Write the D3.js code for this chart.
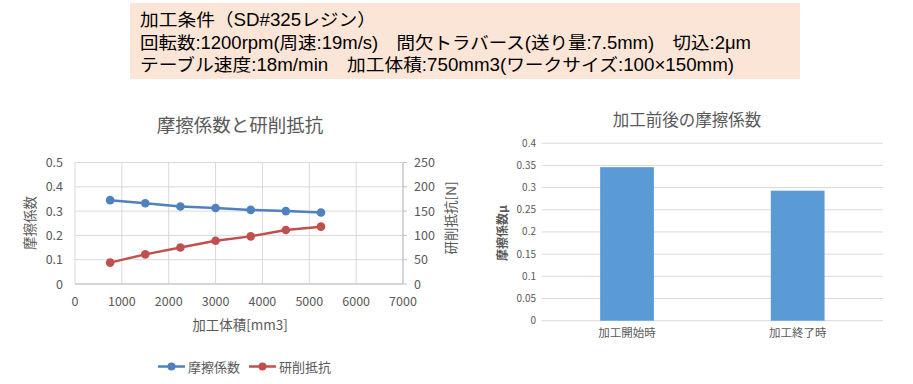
<!DOCTYPE html>
<html><head><meta charset="utf-8">
<script src="https://cdn.jsdelivr.net/npm/d3@7"></script>
<style>
body{margin:0;background:#fff;}
svg{display:block;font-family:"Noto Sans CJK JP","Noto Sans",sans-serif;}
</style></head><body>
<svg id="c" width="913" height="384"></svg>
<script>
// ---- data ----
const conditionLines = [
  "加工条件（SD#325レジン）",
  "回転数:1200rpm(周速:19m/s)　間欠トラバース(送り量:7.5mm)　切込:2μm",
  "テーブル速度:18m/min　加工体積:750mm3(ワークサイズ:100×150mm)"
];
const conditionWidths = [236, 611, 594];
const volume = [750, 1500, 2250, 3000, 3750, 4500, 5250];
const friction = [0.345, 0.332, 0.319, 0.313, 0.305, 0.300, 0.294];
const resistance = [44, 61, 75, 89, 98, 111, 118];
const xTicks = [0,1000,2000,3000,4000,5000,6000,7000];
const leftTicks = [0,0.1,0.2,0.3,0.4,0.5];
const rightTicks = [0,50,100,150,200,250];
const barCats = ["加工開始時", "加工終了時"];
const barVals = [0.346, 0.293];
const barTicks = [0,0.05,0.1,0.15,0.2,0.25,0.3,0.35,0.4];

const svg = d3.select("#c");
const gray = "#595959", grid = "#d9d9d9";

// ---- header box ----
svg.append("rect").attr("x",130).attr("y",3).attr("width",670).attr("height",76).attr("fill","#fbe5d6");
conditionLines.forEach((t,i)=>{
  svg.append("text").attr("x",140).attr("y",26+i*22.5)
    .style("font-family",'"Liberation Sans","Noto Sans CJK JP",sans-serif')
    .attr("font-size",17.5).attr("fill","#000")
    .attr("textLength",conditionWidths[i]).attr("lengthAdjust","spacingAndGlyphs").text(t);
});

// ---- left chart ----
const x = d3.scaleLinear().domain([0,7000]).range([75,403]);
const yL = d3.scaleLinear().domain([0,0.5]).range([284,162.5]);
const yR = d3.scaleLinear().domain([0,250]).range([284,162.5]);
const L = svg.append("g");
L.append("text").attr("x",240).attr("y",132).attr("text-anchor","middle").attr("font-size",18.5).attr("fill",gray).text("摩擦係数と研削抵抗");
L.selectAll(".hg").data(leftTicks).join("line").attr("x1",75).attr("x2",403)
  .attr("y1",d=>yL(d)).attr("y2",d=>yL(d)).attr("stroke",grid).attr("stroke-width",1);
L.selectAll(".vg").data(xTicks).join("line").attr("y1",162.5).attr("y2",284)
  .attr("x1",d=>x(d)).attr("x2",d=>x(d)).attr("stroke",grid).attr("stroke-width",1);
// right axis line + ticks
L.append("line").attr("x1",403).attr("x2",403).attr("y1",162.5).attr("y2",284).attr("stroke","#bfbfbf");
L.selectAll(".rt").data(rightTicks).join("line").attr("x1",403).attr("x2",407)
  .attr("y1",d=>yR(d)).attr("y2",d=>yR(d)).attr("stroke","#bfbfbf");
L.append("line").attr("x1",75).attr("x2",403).attr("y1",284).attr("y2",284).attr("stroke","#bfbfbf");
L.selectAll(".lt").data(leftTicks).join("text").attr("x",63).attr("y",d=>yL(d)+4.5)
  .attr("text-anchor","end").attr("font-size",12.5).attr("fill",gray).text(d=>d3.format("")(d));
L.selectAll(".rtl").data(rightTicks).join("text").attr("x",414).attr("y",d=>yR(d)+4.5)
  .attr("font-size",12.5).attr("fill",gray).text(d=>d);
L.selectAll(".xt").data(xTicks).join("text").attr("x",d=>x(d)).attr("y",306)
  .attr("text-anchor","middle").attr("font-size",12.5).attr("fill",gray).text(d=>d);
L.append("text").attr("x",240).attr("y",330).attr("text-anchor","middle").attr("font-size",13.5).attr("fill",gray).text("加工体積[mm3]");
L.append("text").attr("transform","translate(35,223) rotate(-90)").attr("text-anchor","middle").attr("font-size",13.5).attr("fill",gray).text("摩擦係数");
L.append("text").attr("transform","translate(456,218) rotate(-90)").attr("text-anchor","middle").attr("font-size",13.5).attr("fill",gray).text("研削抵抗[N]");

const series = [
  {vals:friction, scale:yL, color:"#4f81bd"},
  {vals:resistance, scale:yR, color:"#c0504d"}
];
series.forEach(s=>{
  const line = d3.line().x((d,i)=>x(volume[i])).y(d=>s.scale(d));
  L.append("path").datum(s.vals).attr("d",line).attr("fill","none").attr("stroke",s.color).attr("stroke-width",2.5);
  L.selectAll(null).data(s.vals).join("circle").attr("cx",(d,i)=>x(volume[i])).attr("cy",d=>s.scale(d))
    .attr("r",4.3).attr("fill",s.color);
});
// legend
const legend = [{name:"摩擦係数",color:"#4f81bd",x:158},{name:"研削抵抗",color:"#c0504d",x:249}];
legend.forEach(l=>{
  L.append("line").attr("x1",l.x).attr("x2",l.x+27).attr("y1",366.5).attr("y2",366.5).attr("stroke",l.color).attr("stroke-width",2.5);
  L.append("circle").attr("cx",l.x+13.5).attr("cy",366.5).attr("r",4).attr("fill",l.color);
  L.append("text").attr("x",l.x+30).attr("y",371.5).attr("font-size",13).attr("fill",gray).text(l.name);
});

// ---- right bar chart ----
const R = svg.append("g");
const xb = d3.scaleBand().domain(barCats).range([541.7,883]).paddingInner(0.685).paddingOuter(0.3425);
const yb = d3.scaleLinear().domain([0,0.4]).range([320.7,143.2]);
R.append("text").attr("x",687).attr("y",126).attr("text-anchor","middle").attr("font-size",16.5).attr("fill",gray).text("加工前後の摩擦係数");
R.selectAll(".g").data(barTicks).join("line").attr("x1",541.7).attr("x2",883)
  .attr("y1",d=>yb(d)).attr("y2",d=>yb(d)).attr("stroke",grid);
R.selectAll(".t").data(barTicks).join("text").attr("x",536).attr("y",d=>yb(d)+3.5)
  .attr("text-anchor","end").attr("font-size",10).attr("fill",gray).text(d=>d3.format("")(d));
R.selectAll("rect").data(barVals).join("rect").attr("x",(d,i)=>xb(barCats[i])).attr("width",xb.bandwidth())
  .attr("y",d=>yb(d)).attr("height",d=>yb(0)-yb(d)).attr("fill","#5b9bd5");
R.selectAll(".c").data(barCats).join("text").attr("x",d=>xb(d)+xb.bandwidth()/2).attr("y",337)
  .attr("text-anchor","middle").attr("font-size",11.5).attr("fill",gray).text(d=>d);
R.append("text").attr("transform","translate(507,233) rotate(-90)").attr("text-anchor","middle")
  .attr("font-size",12).attr("font-weight","bold").attr("fill",gray).text("摩擦係数μ");
</script>
</body></html>
